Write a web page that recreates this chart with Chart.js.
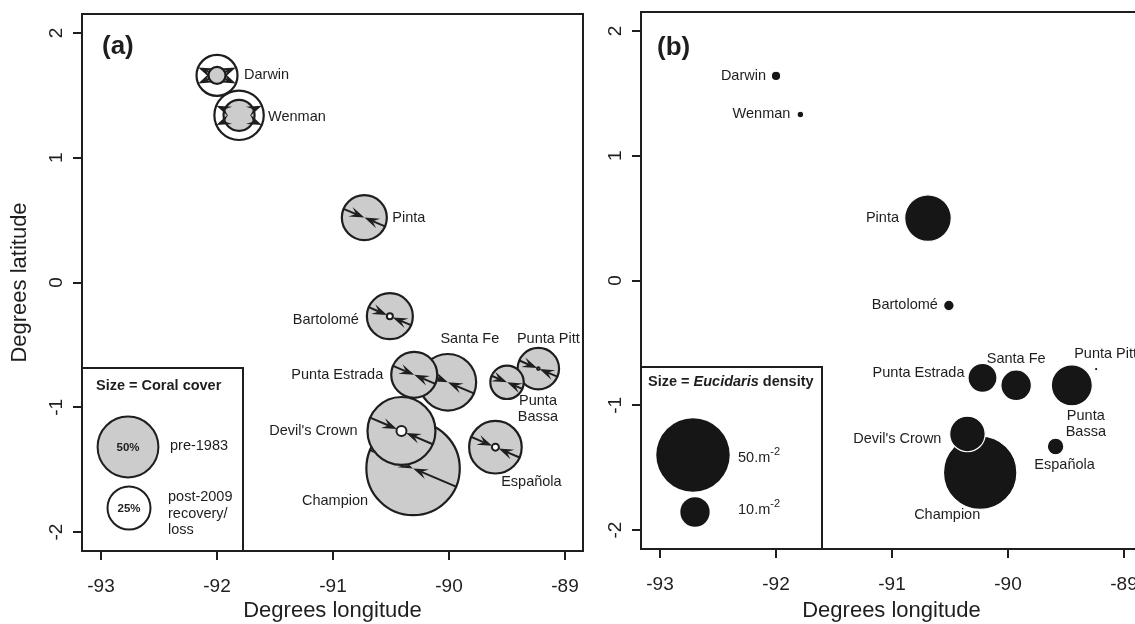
<!DOCTYPE html>
<html>
<head>
<meta charset="utf-8">
<script src="https://cdn.jsdelivr.net/npm/chart.js@4.4.1/dist/chart.umd.min.js"></script>
<style>
  html, body { margin: 0; padding: 0; background: #fff; overflow: hidden; width: 1135px; height: 624px; }
  #wrapA { position: absolute; left: 0; top: 0; width: 600px; height: 624px; }
  #wrapB { position: absolute; left: 590px; top: 0; width: 570px; height: 624px; }
</style>
</head>
<body>
<div id="wrapA"><canvas id="chartA" width="600" height="624"></canvas></div>
<div id="wrapB"><canvas id="chartB" width="570" height="624"></canvas></div>
<script>
// sites
const sites = ["Darwin", "Wenman", "Pinta", "Bartolomé", "Punta Estrada", "Santa Fe",
  "Punta Pitt", "Punta Bassa", "Devil's Crown", "Champion", "Española"];

// panel (a): coral cover (%)
const lonA = [-92.00, -91.81, -90.73, -90.51, -90.30, -90.01, -89.23, -89.50, -90.41, -90.31, -89.60];
const latA = [1.66, 1.34, 0.52, -0.27, -0.74, -0.80, -0.69, -0.80, -1.19, -1.49, -1.32];
const coverPre = [3.9, 13.0, 27.4, 28.6, 28.6, 43.3, 23.2, 15.1, 62.5, 118, 37.4];
const coverPost = [22.7, 33.0, 0, 0.5, 0, 0, 0.09, 0, 1.35, 0, 0.66];

// panel (b): Eucidaris density (per m2)
const lonB = [-92.00, -91.79, -90.69, -90.51, -90.22, -89.93, -89.24, -89.45, -90.35, -90.24, -89.59];
const latB = [1.64, 1.33, 0.50, -0.20, -0.78, -0.84, -0.71, -0.84, -1.23, -1.54, -1.33];
const urchins = [1.36, 0.73, 22.5, 1.67, 9.8, 10.75, 0.23, 18.0, 14.0, 50, 3.68];

const lonTicks = [-93, -92, -91, -90, -89];
const latTicks = [-2, -1, 0, 1, 2];
const legendCover = [50, 25];
const legendDensity = [50, 10];

const FONT = "'Liberation Sans', Arial, Helvetica, sans-serif";
const INK = "#1e1e1e";
const GREY = "#cbcccb";
const TILT = 23 * Math.PI / 180;

const rA = (c) => 4.3 * Math.sqrt(c);
const rB = (d) => 3.95 * Math.pow(d, 0.57);

// label placement, px from the point (dx, dy, align, wrap)
const labelA = {
  "Darwin": [27, 0, "left"], "Wenman": [29, 2, "left"], "Pinta": [28, 0, "left"],
  "Bartolomé": [-31, 4, "right"], "Punta Estrada": [-31, 0, "right"],
  "Santa Fe": [22, -43, "center"], "Punta Pitt": [10, -30, "center"],
  "Punta Bassa": [31, 19, "center", true], "Devil's Crown": [-44, 0, "right"],
  "Champion": [-78, 33, "center"], "Española": [36, 35, "center"],
};
const labelB = {
  "Darwin": [-10, 0, "right"], "Wenman": [-10, -1, "right"], "Pinta": [-29, 0, "right"],
  "Bartolomé": [-11, 0, "right"], "Punta Estrada": [-18, -5, "right"],
  "Santa Fe": [0, -26, "center"], "Punta Pitt": [-22, -15, "left"],
  "Punta Bassa": [14, 31, "center", true], "Devil's Crown": [-26, 5, "right"],
  "Champion": [-33, 42, "center"], "Española": [9, 19, "center"],
};

const LON_MIN = -93.164, LON_MAX = -88.845;
const LAT_MIN = -2.152, LAT_MAX = 2.152;

function makeScales(yWidth, xHeight, yTitle) {
  const grid = { display: true, drawOnChartArea: false, drawTicks: true, tickLength: 9, color: INK, lineWidth: 2 };
  const border = { display: true, color: INK, width: 2 };
  return {
    x: {
      type: "linear", position: "bottom", min: LON_MIN, max: LON_MAX, grid, border,
      afterBuildTicks: (s) => { s.ticks = lonTicks.map((v) => ({ value: v })); },
      afterFit: (s) => { s.height = xHeight; },
      ticks: { color: INK, font: { size: 19, family: FONT }, padding: 15, maxRotation: 0, autoSkip: false },
      title: { display: true, text: "Degrees longitude", color: INK, font: { size: 22, family: FONT }, padding: { top: 0, bottom: 0 } },
    },
    y: {
      type: "linear", position: "left", min: LAT_MIN, max: LAT_MAX, grid, border,
      afterBuildTicks: (s) => { s.ticks = latTicks.map((v) => ({ value: v })); },
      afterFit: (s) => { s.width = yWidth; },
      ticks: { display: false },
      title: { display: !!yTitle, text: yTitle || "", color: INK, font: { size: 22, family: FONT }, padding: { top: 7, bottom: 0 } },
    },
  };
}

function drawFrame(chart, tag, tagDx, tagDy) {
  const { ctx, chartArea: a, scales: { y } } = chart;
  ctx.save();
  ctx.strokeStyle = INK;
  ctx.lineWidth = 2;
  ctx.strokeRect(a.left, a.top, a.right - a.left, a.bottom - a.top);
  ctx.fillStyle = INK;
  ctx.font = `19px ${FONT}`;
  ctx.textAlign = "center";
  ctx.textBaseline = "middle";
  latTicks.forEach((v) => {
    ctx.save();
    ctx.translate(a.left - 25, y.getPixelForValue(v));
    ctx.rotate(-Math.PI / 2);
    ctx.fillText(String(v), 0, 0);
    ctx.restore();
  });
  ctx.font = `bold 26px ${FONT}`;
  ctx.textAlign = "left";
  ctx.fillText(tag, a.left + tagDx, a.top + tagDy);
  ctx.restore();
}

function drawSiteLabels(chart, lons, lats, layout) {
  const { ctx, scales: { x, y } } = chart;
  ctx.save();
  ctx.fillStyle = INK;
  ctx.font = `14.5px ${FONT}`;
  ctx.textBaseline = "middle";
  sites.forEach((name, i) => {
    const [dx, dy, align, wrap] = layout[name];
    const px = x.getPixelForValue(lons[i]) + dx;
    const py = y.getPixelForValue(lats[i]) + dy;
    ctx.textAlign = align;
    const lines = wrap ? name.split(" ") : [name];
    lines.forEach((t, k) => ctx.fillText(t, px, py + k * 16));
  });
  ctx.restore();
}

function circle(ctx, cx, cy, r, fill, stroke, lw) {
  ctx.beginPath();
  ctx.arc(cx, cy, r, 0, Math.PI * 2);
  ctx.fillStyle = fill;
  ctx.fill();
  if (stroke) {
    ctx.lineWidth = lw;
    ctx.strokeStyle = stroke;
    ctx.stroke();
  }
}

function arrow(ctx, x0, y0, x1, y1) {
  const dx = x1 - x0, dy = y1 - y0, len = Math.hypot(dx, dy);
  if (len < 1) return;
  const ux = dx / len, uy = dy / len, nx = -uy, ny = ux;
  const L = 15, W = 5.2;
  ctx.beginPath();
  ctx.moveTo(x0, y0);
  ctx.lineTo(x1 - ux * L * 0.6, y1 - uy * L * 0.6);
  ctx.stroke();
  ctx.beginPath();
  ctx.moveTo(x1, y1);
  ctx.lineTo(x1 - ux * L + nx * W, y1 - uy * L + ny * W);
  ctx.lineTo(x1 - ux * L * 0.6, y1 - uy * L * 0.6);
  ctx.lineTo(x1 - ux * L - nx * W, y1 - uy * L - ny * W);
  ctx.closePath();
  ctx.fill();
}

// draw order: biggest first
const orderA = sites.map((_, i) => i).sort((a, b) => coverPre[b] - coverPre[a]);
const orderB = sites.map((_, i) => i).sort((a, b) => urchins[b] - urchins[a]);

const arrowPlugin = {
  id: "arrows",
  afterDatasetsDraw(chart) {
    const { ctx, scales: { x, y } } = chart;
    const c = Math.cos(TILT), s = Math.sin(TILT);
    orderA.forEach((i, k) => {
      const cx = x.getPixelForValue(lonA[i]), cy = y.getPixelForValue(latA[i]);
      const r0 = rA(coverPre[i]), r1 = rA(coverPost[i]);
      ctx.save();
      // keep arrows hidden under circles that are drawn later
      orderA.slice(k + 1).forEach((j) => {
        ctx.beginPath();
        ctx.rect(0, 0, chart.width, chart.height);
        ctx.arc(x.getPixelForValue(lonA[j]), y.getPixelForValue(latA[j]), rA(coverPre[j]) + 1, 0, Math.PI * 2);
        ctx.clip("evenodd");
      });
      ctx.strokeStyle = INK;
      ctx.fillStyle = INK;
      ctx.lineWidth = 2;
      const dirs = r1 > r0 ? [[c, s], [c, -s], [-c, s], [-c, -s]] : [[c, s], [-c, -s]];
      dirs.forEach(([ux, uy]) => arrow(ctx, cx + ux * r0, cy + uy * r0, cx + ux * r1, cy + uy * r1));
      ctx.restore();
    });
  },
};

const extrasA = {
  id: "extrasA",
  afterDraw(chart) {
    const { ctx, chartArea: { left, bottom } } = chart;
    drawSiteLabels(chart, lonA, latA, labelA);
    // legend box
    ctx.save();
    const w = 161, h = 183;
    ctx.fillStyle = "#fff";
    ctx.fillRect(left, bottom - h, w, h);
    ctx.strokeStyle = INK;
    ctx.lineWidth = 2;
    ctx.strokeRect(left, bottom - h, w, h);
    ctx.fillStyle = INK;
    ctx.textBaseline = "middle";
    ctx.textAlign = "left";
    ctx.font = `bold 14.5px ${FONT}`;
    ctx.fillText("Size = Coral cover", left + 14, bottom - 165);
    circle(ctx, left + 46, bottom - 104, rA(legendCover[0]), GREY, INK, 2);
    circle(ctx, left + 47, bottom - 43, rA(legendCover[1]), "#fff", INK, 2);
    ctx.fillStyle = INK;
    ctx.textAlign = "center";
    ctx.font = `bold 11.5px ${FONT}`;
    ctx.fillText(legendCover[0] + "%", left + 46, bottom - 103);
    ctx.fillText(legendCover[1] + "%", left + 47, bottom - 42);
    ctx.textAlign = "left";
    ctx.font = `14.5px ${FONT}`;
    ctx.fillText("pre-1983", left + 88, bottom - 105);
    ctx.fillText("post-2009", left + 86, bottom - 54);
    ctx.fillText("recovery/", left + 86, bottom - 37.5);
    ctx.fillText("loss", left + 86, bottom - 21);
    ctx.restore();
    drawFrame(chart, "(a)", 20, 33);
  },
};

const extrasB = {
  id: "extrasB",
  afterDraw(chart) {
    const { ctx, chartArea: { left, bottom } } = chart;
    drawSiteLabels(chart, lonB, latB, labelB);
    ctx.save();
    const w = 181, h = 182;
    ctx.fillStyle = "#fff";
    ctx.fillRect(left, bottom - h, w, h);
    ctx.strokeStyle = INK;
    ctx.lineWidth = 2;
    ctx.strokeRect(left, bottom - h, w, h);
    ctx.fillStyle = INK;
    ctx.textBaseline = "middle";
    ctx.textAlign = "left";
    let tx = left + 7;
    const ty = bottom - 167;
    [["Size = ", "bold"], ["Eucidaris", "italic bold"], [" density", "bold"]].forEach(([t, st]) => {
      ctx.font = `${st} 14.5px ${FONT}`;
      ctx.fillText(t, tx, ty);
      tx += ctx.measureText(t).width;
    });
    circle(ctx, left + 52, bottom - 94, rB(legendDensity[0]), "#161616");
    circle(ctx, left + 54, bottom - 37, rB(legendDensity[1]), "#161616");
    ctx.fillStyle = INK;
    [[legendDensity[0], bottom - 91], [legendDensity[1], bottom - 39]].forEach(([v, yy]) => {
      ctx.font = `14.5px ${FONT}`;
      const t = v + ".m";
      ctx.fillText(t, left + 97, yy);
      const tw = ctx.measureText(t).width;
      ctx.font = `11px ${FONT}`;
      ctx.fillText("-2", left + 97 + tw, yy - 6);
    });
    ctx.restore();
    drawFrame(chart, "(b)", 16, 36);
  },
};

const baseOptions = {
  responsive: false,
  animation: false,
  events: [],
  plugins: { legend: { display: false }, tooltip: { enabled: false } },
};

new Chart(document.getElementById("chartA"), {
  type: "bubble",
  data: {
    datasets: [
      {
        label: "post-2009 loss",
        data: orderA.filter((i) => coverPost[i] < coverPre[i])
          .map((i) => ({ x: lonA[i], y: latA[i], r: rA(coverPost[i]) })),
        backgroundColor: "#fff", borderColor: INK, borderWidth: 2, order: 1,
      },
      {
        label: "pre-1983",
        data: orderA.map((i) => ({ x: lonA[i], y: latA[i], r: rA(coverPre[i]) })),
        backgroundColor: GREY, borderColor: INK, borderWidth: 2.2, order: 2,
      },
      {
        label: "post-2009 recovery",
        data: orderA.filter((i) => coverPost[i] > coverPre[i])
          .map((i) => ({ x: lonA[i], y: latA[i], r: rA(coverPost[i]) })),
        backgroundColor: "#fff", borderColor: INK, borderWidth: 2.2, order: 3,
      },
    ],
  },
  options: {
    ...baseOptions,
    layout: { autoPadding: false, padding: { left: 0, top: 14, right: 17, bottom: 0 } },
    scales: makeScales(82, 73, "Degrees latitude"),
  },
  plugins: [arrowPlugin, extrasA],
});

new Chart(document.getElementById("chartB"), {
  type: "bubble",
  data: {
    datasets: [
      {
        label: "Eucidaris density",
        data: orderB.map((i) => ({ x: lonB[i], y: latB[i], r: rB(urchins[i]) })),
        backgroundColor: "#161616", borderColor: "#fff", borderWidth: 1.2,
      },
    ],
  },
  options: {
    ...baseOptions,
    layout: { autoPadding: false, padding: { left: 0, top: 12, right: 18, bottom: 0 } },
    scales: makeScales(51, 75, null),
  },
  plugins: [extrasB],
});
</script>
</body>
</html>
